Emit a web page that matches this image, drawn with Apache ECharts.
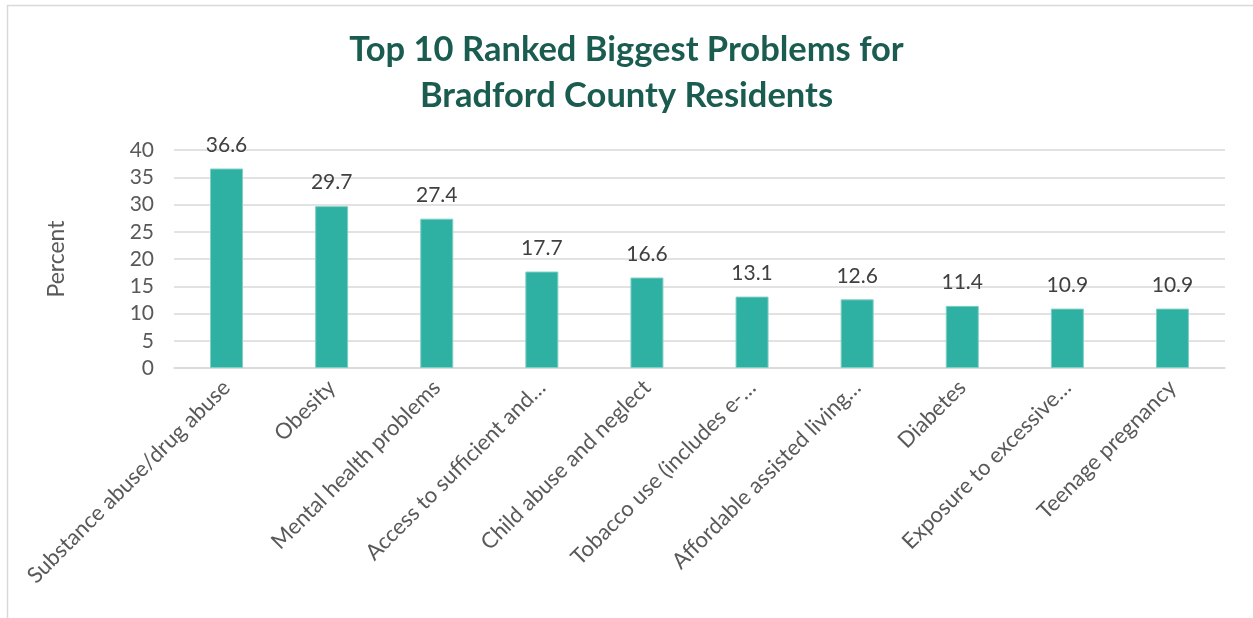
<!DOCTYPE html>
<html><head><meta charset="utf-8">
<script src="https://cdn.jsdelivr.net/npm/echarts@6/dist/echarts.min.js"></script>
<style>html,body{margin:0;padding:0;background:#fff}#c{width:1253px;height:618px}</style>
</head><body><div id="c"></div>
<script>
const categories = ["Substance abuse/drug abuse","Obesity","Mental health problems","Access to sufficient and…","Child abuse and neglect","Tobacco use (includes e-…","Affordable assisted living…","Diabetes","Exposure to excessive…","Teenage pregnancy"];
const values = [36.6, 29.7, 27.4, 17.7, 16.6, 13.1, 12.6, 11.4, 10.9, 10.9];
const titleLines = ["Top 10 Ranked Biggest Problems for", "Bradford County Residents"];
const yAxisName = "Percent";

const FONT = "Lato, 'Open Sans', sans-serif";
const chart = echarts.init(document.getElementById('c'), null, {renderer:'canvas'});
chart.setOption({
  animation:false,
  backgroundColor:'#fff',
  title:{
    text: titleLines.join('\n'),
    left:'center', top:22,
    textStyle:{fontFamily:FONT, fontWeight:'bold', fontSize:34.5, color:'#1b5c50', lineHeight:46}
  },
  graphic:[{type:'rect', shape:{x:7.5,y:5.5,width:1400,height:800}, style:{fill:'none', stroke:'#d9d9d9', lineWidth:1.5}, silent:true}],
  grid:{left:174, right:28, top:150, bottom:250, containLabel:false},
  xAxis:{
    type:'category', data:categories,
    axisLine:{show:true, lineStyle:{color:'#d9d9d9', width:1.5}},
    axisTick:{show:false},
    axisLabel:{rotate:45, interval:0, margin:16, fontFamily:FONT, fontSize:22, color:'#595959'}
  },
  yAxis:{
    type:'value', min:0, max:40, interval:5,
    name:yAxisName, nameLocation:'middle', nameGap:106, nameRotate:90,
    nameTextStyle:{fontFamily:FONT, fontSize:23, color:'#595959'},
    axisLine:{show:false}, axisTick:{show:false},
    axisLabel:{fontFamily:FONT, fontSize:21, color:'#595959', margin:20},
    splitLine:{lineStyle:{color:'#d9d9d9', width:1.5}}
  },
  series:[{
    type:'bar', data:values, barWidth:33,
    itemStyle:{color:'#2eb0a2', borderColor:'#7fcfc4', borderWidth:1},
    label:{show:true, position:'top', distance:13, fontFamily:FONT, fontSize:21, color:'#404040', formatter:p=>p.value.toFixed(1)}
  }]
});
</script></body></html>
